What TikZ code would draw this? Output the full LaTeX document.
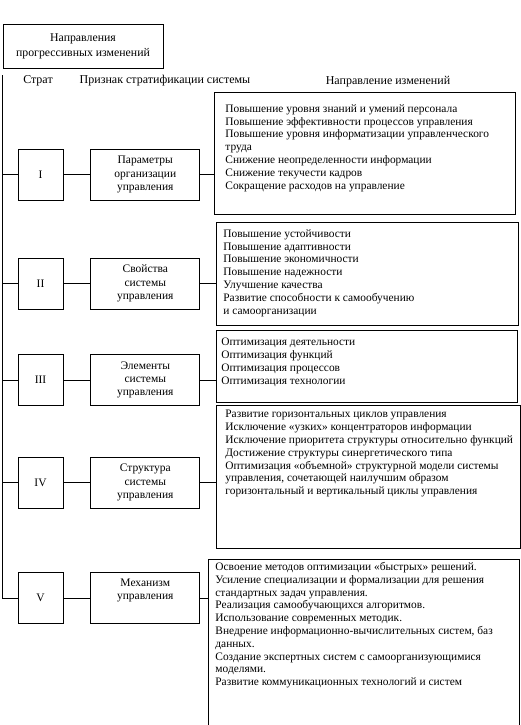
\documentclass[tikz,border=0pt]{standalone}
\usepackage{fontspec}
\setmainfont{Liberation Serif}
\usetikzlibrary{positioning}
\tikzset{
myHead/.style={
	rectangle, draw, align=center,
	minimum width=160pt, minimum height=44pt,
	inner sep=0pt, font=\fontsize{11.8}{15}\selectfont
}
, myCaption/.style={inner sep=0pt, font=\fontsize{12}{13}\selectfont}
, myStrat/.style={
	rectangle, draw, minimum width=45pt, minimum height=51pt,
	inner sep=0pt, font=\fontsize{11.5}{13}\selectfont
}
, myProp/.style={
	rectangle, draw, align=center, minimum width=109pt, minimum height=51pt,
	inner sep=0pt, font=\fontsize{11.5}{13.3}\selectfont
}
% direction frames and their texts
, myDir/.style={rectangle, draw, anchor=north west, inner sep=0pt}
, myDirText/.style={
	anchor=north west, align=left, inner sep=0pt,
	font=\fontsize{11.4}{12.8}\selectfont
}
}

\begin{document}
\begin{tikzpicture}[x=1pt, y=-1pt, line width=0.8pt]
	\useasboundingbox (0,0) rectangle (521,725);
	% header
	\node[myHead] (Head) at (83,46) {Направления\\прогрессивных изменений};
	\node[myCaption] (CapStrat) at (38,81) {Страт};
	\node[myCaption] (CapSign) at (165,81) {Признак стратификации системы};
	\node[myCaption] (CapDir) at (388,82) {Направление изменений};
	% strata
	\node[myStrat] (S1) at (40.5,174.5) {I};
	\node[myStrat] (S2) at (40.5,283.5) {II};
	\node[myStrat] (S3) at (40.5,380) {III};
	\node[myStrat] (S4) at (40.5,482.5) {IV};
	\node[myStrat] (S5) at (40.5,598) {V};
	% signs
	\node[myProp] (P1) [right=27pt of S1] {Параметры\\организации\\управления};
	\node[myProp] (P2) [right=27pt of S2] {Свойства\\системы\\управления};
	\node[myProp] (P3) [right=27pt of S3] {Элементы\\системы\\управления};
	\node[myProp] (P4) [right=27pt of S4] {Структура\\системы\\управления};
	\node[myProp] (P5) [right=27pt of S5] {Механизм\\управления\\ \strut};
	% directions
	\node[myDir, minimum width=301pt, minimum height=122pt] (D1) at (214,92) {};
	\node[myDir, minimum width=302pt, minimum height=103pt] (D2) at (216,222) {};
	\node[myDir, minimum width=301pt, minimum height=72pt] (D3) at (216,330) {};
	\node[myDir, minimum width=304pt, minimum height=143pt] (D4) at (216,405) {};
	\node[myDir, minimum width=311pt, minimum height=180pt] (D5) at (208,559) {};
	\node[myDirText] (T1) at (225,104) {Повышение уровня знаний и умений персонала\\
		Повышение эффективности процессов управления\\
		Повышение уровня информатизации управленческого\\
		труда\\
		Снижение неопределенности информации\\
		Снижение текучести кадров\\
		Сокращение расходов на управление};
	\node[myDirText] (T2) at (223,229) {Повышение устойчивости\\
		Повышение адаптивности\\
		Повышение экономичности\\
		Повышение надежности\\
		Улучшение качества\\
		Развитие способности к самообучению\\
		и самоорганизации};
	\node[myDirText] (T3) at (221,338) {Оптимизация деятельности\\
		Оптимизация функций\\
		Оптимизация процессов\\
		Оптимизация технологии};
	\node[myDirText] (T4) at (225,410) {Развитие горизонтальных циклов управления\\
		Исключение «узких» концентраторов информации\\
		Исключение приоритета структуры относительно функций\\
		Достижение структуры синергетического типа\\
		Оптимизация «объемной» структурной модели системы\\
		управления, сочетающей наилучшим образом\\
		горизонтальный и вертикальный циклы управления};
	\node[myDirText] (T5) at (215,562) {Освоение методов оптимизации «быстрых» решений.\\
		Усиление специализации и формализации для решения\\
		стандартных задач управления.\\
		Реализация самообучающихся алгоритмов.\\
		Использование современных методик.\\
		Внедрение информационно-вычислительных систем, баз\\
		данных.\\
		Создание экспертных систем с самоорганизующимися\\
		моделями.\\
		Развитие коммуникационных технологий и систем};
	% links
	\coordinate (Trunk) at (2,75);
	\draw (Trunk) |- (S5.west);
	\foreach \i in {1,...,4}
		\draw (S\i.west -| Trunk) -- (S\i.west);
	\foreach \i in {1,...,5} {
		\draw (S\i) -- (P\i);
		\draw (P\i.east) -- (P\i.east -| D\i.west);
	}
\end{tikzpicture}
\end{document}
